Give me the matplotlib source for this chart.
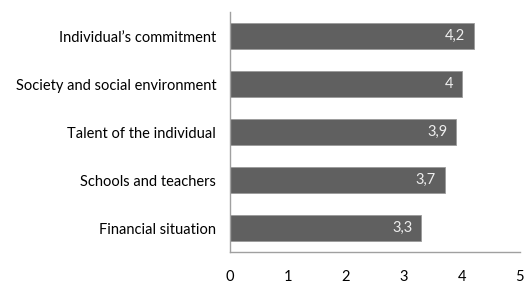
import matplotlib.pyplot as plt

plt.rcParams['font.family'] = ['Lato', 'DejaVu Sans']

categories = ["Individual\u2019s commitment", "Society and social environment",
              "Talent of the individual", "Schools and teachers", "Financial situation"]
values = [4.2, 4.0, 3.9, 3.7, 3.3]
value_labels = ["4,2", "4", "3,9", "3,7", "3,3"]

fig = plt.figure(figsize=(5.3, 2.83), dpi=100)
ax = fig.add_axes([0.434, 0.1095, 0.547, 0.848])

pos = list(range(len(categories)))[::-1]
bars = ax.barh(pos, values, height=0.54, color='#606060',
               edgecolor='#9a9a9a', linewidth=0.6)

for b, lab in zip(bars, value_labels):
    ax.text(b.get_width() - 0.15, b.get_y() + b.get_height() / 2, lab,
            ha='right', va='center', color='#eeeeee', fontsize=10.5)

ax.set_xlim(0, 5)
ax.set_ylim(-0.5, len(categories) - 0.5)
ax.set_yticks(pos)
ax.set_yticklabels(categories, fontsize=10.5)
ax.set_xticks(range(6))
ax.tick_params(axis='x', length=0, pad=13, labelsize=10.5)
ax.tick_params(axis='y', length=0, pad=10)

for s in ['top', 'right']:
    ax.spines[s].set_visible(False)
for s in ['left', 'bottom']:
    ax.spines[s].set_color('#a0a0a0')
    ax.spines[s].set_linewidth(1)

fig.savefig('out.png', dpi=100)
